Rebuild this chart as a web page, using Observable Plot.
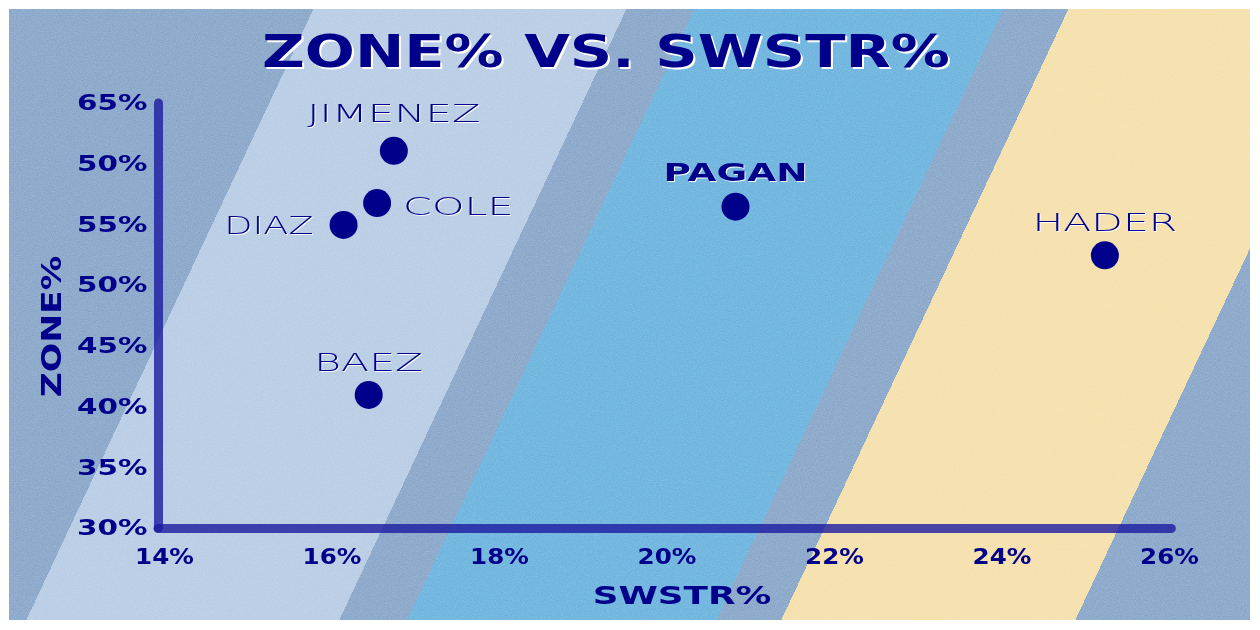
<!DOCTYPE html>
<html>
<head>
<meta charset="utf-8">
<script src="https://cdn.jsdelivr.net/npm/d3@7"></script>
<script src="https://cdn.jsdelivr.net/npm/@observablehq/plot@0.6"></script>
<style>
  body { margin: 0; background: #fff; }
  #wrap { position: relative; width: 1260px; height: 630px; overflow: hidden; background: #fff; font-family: "DejaVu Sans", sans-serif; }
  #bg { position: absolute; left: 9px; top: 9px; width: 1241px; height: 611px; }
  #noise { position: absolute; left: 9px; top: 9px; mix-blend-mode: overlay; opacity: 0.16; }
  #title { position: relative; height: 80px; }
  #title span { position: absolute; left: 606px; top: 30px; white-space: nowrap; font-size: 44px; line-height: 44px; font-weight: bold; color: #00008b; transform: translateX(-50%) scaleX(1.34); text-shadow: 1.5px 2px 0 #fff; }
  #chart { position: relative; }
</style>
</head>
<body>
<div id="wrap">
  <div id="bg"></div>
  <svg id="noise" width="1241" height="611">
    <filter id="paper" color-interpolation-filters="sRGB">
      <feTurbulence type="fractalNoise" baseFrequency="0.8" numOctaves="3" seed="7"/>
      <feColorMatrix type="matrix" values="1 0 0 0 0  1 0 0 0 0  1 0 0 0 0  0 0 0 0 1"/>
    </filter>
    <rect width="100%" height="100%" filter="url(#paper)"/>
  </svg>
  <div id="title"><span></span></div>
  <div id="chart"></div>
</div>
<script>
// ---- data ----
const titleText = "ZONE% VS. SWSTR%";
const xLabel = "SWSTR%";
const yLabel = "ZONE%";
const names = ["JIMENEZ", "COLE", "DIAZ", "BAEZ", "PAGAN", "HADER"];
const swstr = [16.81, 16.61, 16.21, 16.51, 20.89, 25.3];
const zone  = [61.1, 56.8, 55.0, 41.0, 56.5, 52.5];
const xTicks = [14, 16, 18, 20, 22, 24, 26];
const xTickLabels = ["14%", "16%", "18%", "20%", "22%", "24%", "26%"];
const yTicks = [30, 35, 40, 45, 50, 55, 60, 65];
const yTickLabels = ["30%", "35%", "40%", "45%", "50%", "55%", "50%", "65%"];

// ---- background bands (decoration) ----
(function () {
  const k = 0.47;
  const n = Math.sqrt(1 + k * k);
  const ang = 180 - Math.atan(1 / k) * 180 / Math.PI;
  const base = "#8fabcc", light = "#bccfe6", blue = "#74b8e0", yellow = "#f6e2b0";
  const edges = [313, 626, 694, 1003, 1068, 1362];
  const s = edges.map(X => ((X - 9) + k * 1) / n);
  const stops = [
    `${base} 0px`, `${base} ${s[0]}px`, `${light} ${s[0]}px`, `${light} ${s[1]}px`,
    `${base} ${s[1]}px`, `${base} ${s[2]}px`, `${blue} ${s[2]}px`, `${blue} ${s[3]}px`,
    `${base} ${s[3]}px`, `${base} ${s[4]}px`, `${yellow} ${s[4]}px`, `${yellow} ${s[5]}px`,
    `${base} ${s[5]}px`, `${base} 3000px`
  ];
  document.getElementById("bg").style.background = `linear-gradient(${ang}deg, ${stops.join(", ")})`;
})();

document.querySelector("#title span").textContent = titleText;

// ---- chart ----
const data = names.map((name, i) => ({name, x: swstr[i], y: zone[i]}));
const xt = xTicks.map((t, i) => ({t, label: xTickLabels[i]}));
const yt = yTicks.map((t, i) => ({t, label: yTickLabels[i]}));
const navy = "#00008b";
const axisColor = "#1c1ca0";
const labelFont = {fontSize: 24, fontWeight: 300, fill: navy, letterSpacing: "2px"};

const plot = Plot.plot({
  width: 1260,
  height: 550,
  marginLeft: 158,
  marginRight: 97,
  marginTop: 23,
  marginBottom: 102,
  style: {background: "transparent", overflow: "visible", fontFamily: "DejaVu Sans, sans-serif"},
  x: {domain: [14, 26], axis: null},
  y: {domain: [30, 65], axis: null},
  marks: [
    Plot.ruleX([14], {y1: 30, y2: 65, stroke: axisColor, strokeOpacity: 0.8, strokeWidth: 9, strokeLinecap: "round"}),
    Plot.ruleY([30], {x1: 14, x2: 26.1, stroke: axisColor, strokeOpacity: 0.8, strokeWidth: 9, strokeLinecap: "round"}),
    Plot.text(yt, {y: "t", text: "label", frameAnchor: "left", dx: -11, textAnchor: "end", lineAnchor: "middle",
      fontSize: 21, fontWeight: "bold", fill: navy, ariaDescription: "sx:1.4"}),
    Plot.text(xt, {x: "t", text: "label", frameAnchor: "bottom", dy: 29, dx: 6, textAnchor: "middle", lineAnchor: "middle",
      fontSize: 21, fontWeight: "bold", fill: navy, ariaDescription: "sx:1.17"}),
    Plot.text([xLabel], {frameAnchor: "bottom", dy: 67, dx: 21, textAnchor: "middle", lineAnchor: "middle",
      fontSize: 25, fontWeight: "bold", fill: navy, ariaDescription: "sx:1.43"}),
    Plot.text([yLabel], {frameAnchor: "left", rotate: -90, dx: -105.5, dy: 10.5, textAnchor: "middle", lineAnchor: "middle",
      fontSize: 26, fontWeight: "bold", fill: navy, ariaDescription: "sx:1.33"}),
    Plot.dot(data, {x: "x", y: "y", r: 14, fill: navy, stroke: null}),
    Plot.text(data.filter(d => d.name === "JIMENEZ"), {x: "x", y: "y", text: "name", dy: -37, lineAnchor: "middle",
      ...labelFont, ariaDescription: "sx:1.74 shadow"}),
    Plot.text(data.filter(d => d.name === "BAEZ" || d.name === "HADER"), {x: "x", y: "y", text: "name", dy: -32, lineAnchor: "middle",
      ...labelFont, ariaDescription: "sx:1.71 shadow"}),
    Plot.text(data.filter(d => d.name === "PAGAN"), {x: "x", y: "y", text: "name", dy: -33, lineAnchor: "middle",
      fontSize: 24, fontWeight: "bold", fill: navy, ariaDescription: "sx:1.56 shadow"}),
    Plot.text(data.filter(d => d.name === "COLE"), {x: "x", y: "y", text: "name", dx: 26, dy: 4, textAnchor: "start", lineAnchor: "middle",
      ...labelFont, ariaDescription: "sx:1.72 shadow"}),
    Plot.text(data.filter(d => d.name === "DIAZ"), {x: "x", y: "y", text: "name", dx: -30, dy: 1.5, textAnchor: "end", lineAnchor: "middle",
      ...labelFont, ariaDescription: "sx:1.53 shadow"})
  ]
});

document.getElementById("chart").appendChild(plot);

// widen the text horizontally (extended display face) via textLength, keeping Plot's positions
d3.select(plot).selectAll("g[aria-description]").each(function () {
  const desc = this.getAttribute("aria-description") || "";
  const m = desc.match(/sx:([\d.]+)/);
  if (/shadow/.test(desc)) this.style.filter = "drop-shadow(1.2px 1.6px 0 #ffffff)";
  if (!m) return;
  const s = +m[1];
  d3.select(this).selectAll("text").each(function () {
    const L = this.getComputedTextLength();
    if (L > 0) {
      this.setAttribute("textLength", (L * s).toFixed(1));
      this.setAttribute("lengthAdjust", "spacingAndGlyphs");
    }
  });
});
</script>
</body>
</html>
